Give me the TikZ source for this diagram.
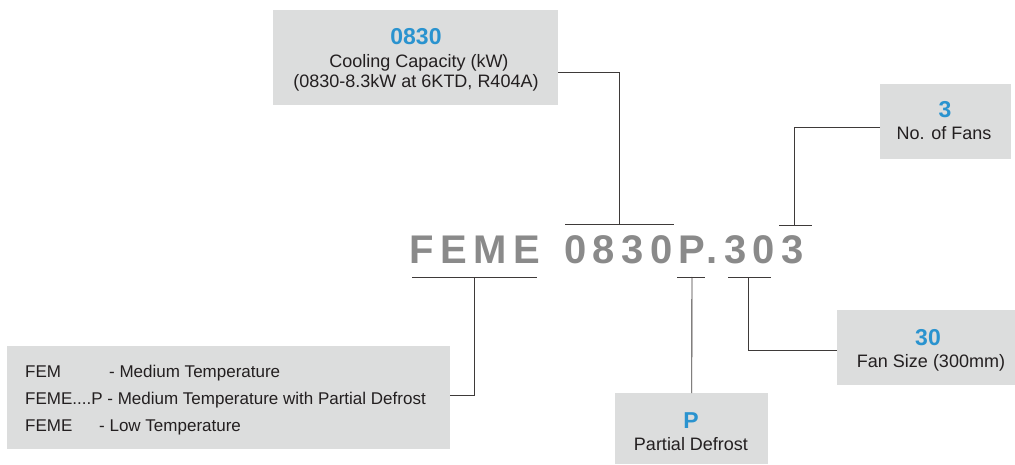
\documentclass[tikz,border=0pt]{standalone}
\usepackage{fontspec}
\setmainfont{Liberation Sans}

\definecolor{boxgray}{HTML}{DCDDDD}
\definecolor{codeblue}{HTML}{2A93CF}
\definecolor{textdark}{HTML}{231F20}
\definecolor{codegray}{HTML}{8A8A8A}
\definecolor{linedark}{HTML}{3E3A39}

\tikzset{
  infobox/.style={fill=boxgray, draw=none, inner sep=0pt, anchor=north west},
  lead/.style={draw=linedark, line width=0.9pt},
  codenum/.style={text=codeblue, font=\fontsize{23}{25}\selectfont\bfseries, anchor=base, inner sep=0pt},
  desc/.style={text=textdark, font=\fontsize{18}{20}\selectfont, anchor=base, inner sep=0pt},
  listtext/.style={text=textdark, font=\fontsize{17}{20}\selectfont, anchor=base west, inner sep=0pt},
  codeword/.style={text=codegray, anchor=base west, inner sep=0pt,
    font=\fontsize{40}{44}\selectfont\bfseries\addfontfeature{LetterSpace=16}},
}

\begin{document}
\begin{tikzpicture}[x=1pt, y=-1pt]

    \useasboundingbox (0,0) rectangle (1015,465);

    % Boxes
    \node[infobox, minimum width=285pt, minimum height=95pt] (capbox) at (273,10) {};
    \node[infobox, minimum width=131pt, minimum height=75pt] (fanbox) at (880,84) {};
    \node[infobox, minimum width=178pt, minimum height=75pt] (sizebox) at (837,310) {};
    \node[infobox, minimum width=153pt, minimum height=71pt] (defbox) at (615,393) {};
    \node[infobox, minimum width=443pt, minimum height=103pt] (typebox) at (7,346) {};

    % Model code
    \node[codeword] (series) at (409.5,264) {FEME};
    \node[codeword] (model) at (564,264) {0830P.303};

    % Box texts
    \node[codenum] (capnum) at (416,45) {0830};
    \node[desc] (capl1) at (419,68) {Cooling Capacity (kW)};
    \node[desc] (capl2) at (416,88) {(0830-8.3kW at 6KTD, R404A)};

    \node[codenum] (fannum) at (945,118) {3};
    \node[desc] (fanl1) at (944,140) {No. of Fans};

    \node[codenum] (sizenum) at (928,345) {30};
    \node[desc] (sizel1) at (931,367) {Fan Size (300mm)};

    \node[codenum] (defnum) at (691,428) {P};
    \node[desc] (defl1) at (691,450) {Partial Defrost};

    \node[listtext] (typea) at (25,377) {FEM};
    \node[listtext] (typeat) at (109,377) {- Medium Temperature};
    \node[listtext] (typeb) at (25,404) {FEME....P - Medium Temperature with Partial Defrost};
    \node[listtext] (typec) at (25,431) {FEME};
    \node[listtext] (typect) at (99,431) {- Low Temperature};

    % Bars under the code
    \coordinate (capbar) at (619,224);
    \coordinate (fanbar) at (794,225);
    \coordinate (typebar) at (474,277);
    \coordinate (defbar) at (692,277);
    \coordinate (sizebar) at (748,277);

    \draw[lead] (565,224) -- (674,224);
    \draw[lead] (779,225) -- (812,225);
    \draw[lead] (412,277) -- (537,277);
    \draw[lead] (677,277) -- (705,277);
    \draw[lead] (728,277) -- (771,277);

    % Leaders
    \draw[lead] (capbox.east |- 0,72) -| (capbar);
    \draw[lead] (fanbox.west |- 0,127) -| (fanbar);
    \draw[lead] (typebar) |- (typebox.east |- 0,395);
    \draw[lead] (defbar) -- (defbox.north);
    \draw[lead] (sizebar) |- (sizebox.west |- 0,350);

\end{tikzpicture}
\end{document}
